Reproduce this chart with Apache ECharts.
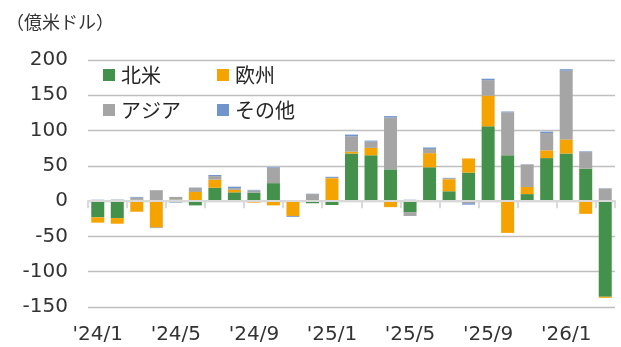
<!DOCTYPE html>
<html>
<head>
<meta charset="utf-8">
<script src="https://cdn.jsdelivr.net/npm/echarts@6/dist/echarts.min.js"></script>
<style>
  html, body { margin: 0; padding: 0; background: #ffffff; }
  #chart { width: 621px; height: 347px; }
</style>
</head>
<body>
<div id="chart"></div>
<script>
// Monthly values, 億米ドル, by region
const months = [
  "'24/1", "'24/2", "'24/3", "'24/4", "'24/5", "'24/6", "'24/7", "'24/8", "'24/9",
  "'24/10", "'24/11", "'24/12", "'25/1", "'25/2", "'25/3", "'25/4", "'25/5", "'25/6",
  "'25/7", "'25/8", "'25/9", "'25/10", "'25/11", "'25/12", "'26/1", "'26/2", "'26/3"
];
const northAmerica = [
  -23, -24, 2, 0, -1.5, -6, 19, 12.5, 12,
  25.5, 0, -3, -5.5, 67.5, 65, 45, -15.5, 48,
  14, 40.5, 106, 65, 10, 61, 67.5, 46, -135.5
];
const europe = [
  -7.5, -8, -15, -37.5, 2, 13, 11.5, 3.5, -2,
  -6, -21, 1.5, 32.5, 2.5, 10.5, -8.5, 1.5, 20,
  17, 20, 43.5, -45, 10, 11, 20, -18, -1.5
];
const asia = [
  1.5, 2, 3, 15.5, 4, 6, 5, 2.5, 3,
  21.5, 0, 8.5, 0.5, 22, 9, 73.5, -5.5, 6,
  1.5, -3, 22, 61, 32, 24.5, 97.5, 23.5, 18
];
const others = [
  0.5, 0.3, 1, -0.7, -0.5, 0.3, 1.5, 2, 1,
  1, -1.2, 0.5, 1.5, 2.3, 1.3, 2, 0.5, 2,
  0.5, -2, 2, 1, 0.3, 2, 2, 1, 0.3
];
const yTicks = { min: -150, max: 200, step: 50 };

const seriesDefs = [
  { name: '北米', data: northAmerica, color: '#43914b' },
  { name: '欧州', data: europe, color: '#f5a300' },
  { name: 'アジア', data: asia, color: '#a5a5a5' },
  { name: 'その他', data: others, color: '#7094cc' }
];

const jpFont = '"Noto Sans CJK JP", sans-serif';
const numFont = '"DejaVu Sans", sans-serif';

// one legend box per entry, laid out as a 2x2 grid
const legendSlots = [
  { left: 103, top: 65 },
  { left: 217, top: 65 },
  { left: 103, top: 100 },
  { left: 217, top: 100 }
];

const chart = echarts.init(document.getElementById('chart'), null, { renderer: 'canvas' });

chart.setOption({
  backgroundColor: '#ffffff',
  animation: false,
  title: {
    text: '（億米ドル）',
    left: 1,
    top: 8,
    textStyle: { fontFamily: jpFont, fontSize: 18, fontWeight: 'normal', color: '#333333' }
  },
  legend: seriesDefs.map((s, i) => ({
    data: [s.name],
    left: legendSlots[i].left,
    top: legendSlots[i].top,
    icon: 'rect',
    itemWidth: 12,
    itemHeight: 12,
    itemGap: 0,
    padding: 0,
    textStyle: { fontFamily: jpFont, fontSize: 20, color: '#262626', padding: [0, 0, 0, 1] }
  })),
  grid: { left: 88, right: 6, top: 60, bottom: 40, containLabel: false },
  xAxis: [
    {
      // axis line through zero with tick marks
      type: 'category',
      data: months,
      position: 'bottom',
      z: 10,
      axisLine: { onZero: true, lineStyle: { color: '#d9d9d9', width: 2 } },
      axisTick: { show: true, interval: 1, length: 7, lineStyle: { color: '#d9d9d9', width: 2 } },
      axisLabel: { show: false },
      splitLine: { show: false }
    },
    {
      // month labels along the bottom edge
      type: 'category',
      data: months,
      position: 'bottom',
      axisLine: { show: false, onZero: false },
      axisTick: { show: false },
      axisLabel: {
        interval: 3,
        margin: 18,
        fontFamily: numFont,
        fontSize: 20,
        color: '#333333'
      },
      splitLine: { show: false }
    }
  ],
  yAxis: {
    type: 'value',
    min: yTicks.min,
    max: yTicks.max,
    interval: yTicks.step,
    axisLine: { show: false },
    axisTick: { show: false },
    axisLabel: { margin: 20, fontFamily: numFont, fontSize: 20, color: '#333333' },
    splitLine: { lineStyle: { color: '#bfbfbf', width: 1.3 } }
  },
  series: seriesDefs.map(s => ({
    name: s.name,
    type: 'bar',
    stack: 'total',
    xAxisIndex: 0,
    barWidth: 13,
    data: s.data,
    itemStyle: { color: s.color }
  }))
});
</script>
</body>
</html>
